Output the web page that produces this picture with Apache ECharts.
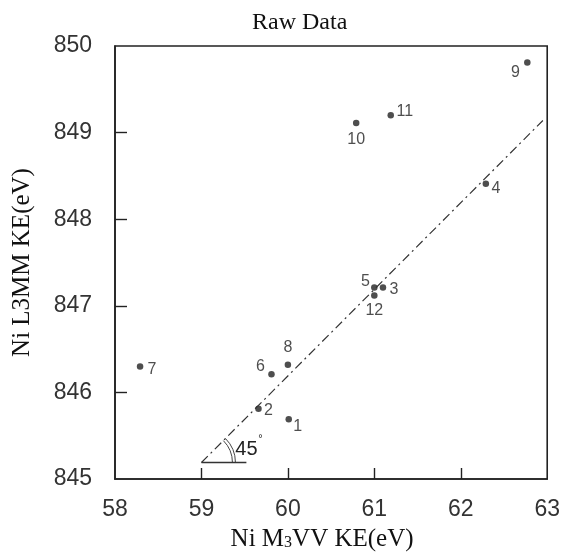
<!DOCTYPE html>
<html>
<head>
<meta charset="utf-8">
<title>Raw Data</title>
<script src="https://cdn.jsdelivr.net/npm/echarts@6/dist/echarts.min.js"></script>
<style>
  html, body { margin: 0; padding: 0; background: #fff; }
  #chart { width: 563px; height: 557px; }
</style>
</head>
<body>
<div id="chart"></div>
<script>
// sample numbers
const pointIds = ["1", "2", "3", "4", "5", "6", "7", "8", "9", "10", "11", "12"];
// Ni M3VV KE (eV)
const m3vvKE = [60.01, 59.66, 61.10, 62.29, 61.00, 59.81, 58.29, 60.00, 62.77, 60.79, 61.19, 61.00];
// Ni L3MM KE (eV)
const l3mmKE = [845.69, 845.81, 847.21, 848.41, 847.21, 846.21, 846.30, 846.32, 849.81, 849.11, 849.20, 847.12];
const xTicks = [58, 59, 60, 61, 62, 63];
const yTicks = [845, 846, 847, 848, 849, 850];
// 45 degree guide line and its base
const guideLine = [[59.0, 845.19], [62.95, 849.14]];
const baseLine = [[59.0, 845.19], [59.52, 845.19]];

// where each number sits next to its dot (px)
const labelOffsets = [[9, 7], [10, 2], [11, 2], [10, 5], [-9, -6], [-11, -8], [12, 3], [0, -17], [-12, 10], [0, 17], [14, -4], [0, 15]];

const sans = "Liberation Sans, Arial, sans-serif";
const serif = "Liberation Serif, Times New Roman, serif";
const ink = "#222";

const chart = echarts.init(document.getElementById("chart"));

chart.setOption({
  animation: false,
  backgroundColor: "#fff",
  title: {
    text: "Raw Data",
    left: 252,
    top: 11,
    padding: 0,
    textStyle: { fontFamily: serif, fontSize: 24, fontWeight: "normal", color: "#111" }
  },
  grid: {
    left: 115,
    right: 14,
    top: 46,
    bottom: 74,
    show: true,
    borderColor: ink,
    borderWidth: 1.6
  },
  xAxis: {
    type: "value",
    min: xTicks[0],
    max: xTicks[xTicks.length - 1],
    interval: 1,
    name: "{a|Ni M}{s|3}{a|VV KE(eV)}",
    nameLocation: "middle",
    nameGap: 48,
    nameTextStyle: {
      padding: [0, 18, 0, 0],
      rich: {
        a: { fontFamily: serif, fontSize: 25, color: "#111" },
        s: { fontFamily: serif, fontSize: 16, color: "#111", padding: [6, 0, 0, 0] }
      }
    },
    axisLine: { show: true, lineStyle: { color: ink, width: 1.6 } },
    axisTick: {
      show: true,
      inside: true,
      length: 11,
      customValues: xTicks.slice(1, -1),
      lineStyle: { color: ink, width: 1.4 }
    },
    axisLabel: {
      margin: 19,
      fontFamily: sans,
      fontSize: 23,
      color: "#333",
      customValues: xTicks
    },
    splitLine: { show: false }
  },
  yAxis: {
    type: "value",
    min: yTicks[0],
    max: yTicks[yTicks.length - 1],
    interval: 1,
    name: "Ni L3MM KE(eV)",
    nameLocation: "middle",
    nameGap: 80,
    nameTextStyle: { fontFamily: serif, fontSize: 25, color: "#111" },
    axisLine: { show: true, lineStyle: { color: ink, width: 1.6 } },
    axisTick: {
      show: true,
      inside: true,
      length: 12,
      customValues: yTicks.slice(1, -1),
      lineStyle: { color: ink, width: 1.4 }
    },
    axisLabel: {
      margin: 23,
      fontFamily: sans,
      fontSize: 23,
      color: "#333",
      customValues: yTicks
    },
    splitLine: { show: false }
  },
  series: [
    {
      name: "guide",
      type: "line",
      data: guideLine,
      symbol: "none",
      silent: true,
      lineStyle: { color: "#333", width: 1.2, type: [9, 4, 2, 4] }
    },
    {
      name: "base",
      type: "line",
      data: baseLine,
      symbol: "none",
      silent: true,
      lineStyle: { color: "#333", width: 1.4 }
    },
    {
      name: "samples",
      type: "scatter",
      symbol: "circle",
      symbolSize: 6.5,
      itemStyle: { color: "#222" },
      label: {
        show: true,
        position: "inside",
        formatter: "{b}",
        fontFamily: sans,
        fontSize: 16,
        color: "#222"
      },
      data: pointIds.map(function (id, i) {
        return {
          name: id,
          value: [m3vvKE[i], l3mmKE[i]],
          label: { offset: labelOffsets[i] }
        };
      })
    }
  ]
});

// 45° angle marker at the foot of the guide line
const v = chart.convertToPixel({ gridIndex: 0 }, guideLine[0]);
chart.setOption({
  graphic: [
    {
      type: "arc",
      shape: { cx: v[0], cy: v[1], r: 31, startAngle: -Math.PI / 4, endAngle: 0, clockwise: true },
      style: { stroke: "#444", fill: null, lineWidth: 1 }
    },
    {
      type: "arc",
      shape: { cx: v[0], cy: v[1], r: 34, startAngle: -Math.PI / 4, endAngle: 0, clockwise: true },
      style: { stroke: "#444", fill: null, lineWidth: 1 }
    },
    {
      type: "text",
      x: v[0] + 45,
      y: v[1] - 13,
      style: { text: "45", font: "20px " + sans, fill: "#222", align: "center", verticalAlign: "middle" }
    },
    {
      type: "text",
      x: v[0] + 59,
      y: v[1] - 24,
      style: { text: "°", font: "11px " + sans, fill: "#222", align: "center", verticalAlign: "middle" }
    }
  ]
});
</script>
</body>
</html>
